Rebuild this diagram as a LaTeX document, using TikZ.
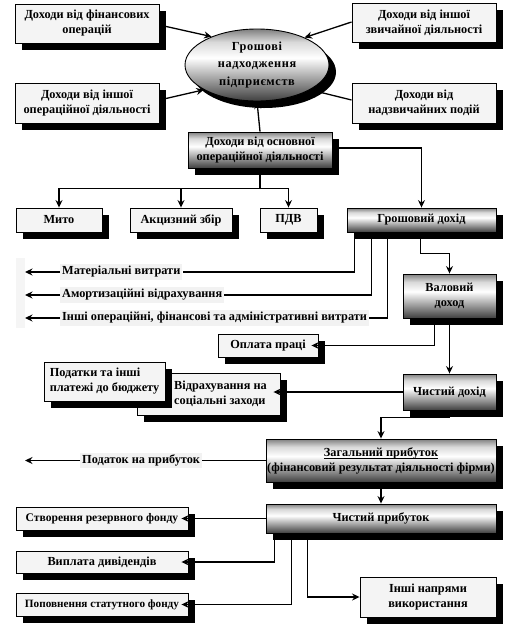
\documentclass[tikz,border=0pt]{standalone}
\usepackage{fontspec}
\setmainfont{Liberation Serif}
\usetikzlibrary{arrows.meta,shadows,shapes.geometric,calc}
\pgfdeclareverticalshading{boxgrad}{100bp}{color(0bp)=(black!75); color(25bp)=(black!75); color(37bp)=(black!45); color(55bp)=(white); color(66bp)=(black!15); color(75bp)=(black!50); color(100bp)=(black!50)}
\newcommand\ulin[1]{\setbox0\hbox{#1}\rlap{\rule[-2.5pt]{\wd0}{0.8pt}}\box0}
\tikzset{
  txt/.style={font=\bfseries\fontsize{12.3}{15}\selectfont},
  base/.style={txt, draw=black, line width=0.9pt, inner sep=1pt, align=center,
    drop shadow={shadow xshift=7pt, shadow yshift=-7pt, fill=black, opacity=1}},
  plainbox/.style={base, fill=gray!9},
  gradbox/.style={base, shade, shading=boxgrad},
  lbl/.style={txt, fill=gray!10, inner sep=2pt, anchor=west},
  ln/.style={line width=1.3pt},
  arr/.style={ln, -{Stealth[length=7.5pt,width=7pt,inset=2.5pt]}},
}
\begin{document}
\begin{tikzpicture}[x=1pt,y=-1pt]
\useasboundingbox (0,0) rectangle (516,630);
\fill[gray!8] (16,258) rectangle (25,328);
% top
\node[gradbox, ellipse, minimum width=144pt, minimum height=72pt, inner sep=0pt,
  font=\bfseries\fontsize{12.3}{17.5}\selectfont\addfontfeature{LetterSpace=5}] (ell) at (257,65) {Грошові\\надходження\\підприємств};
\node[plainbox, minimum width=144pt, minimum height=39pt] (fin) at (87,23.5) {Доходи від фінансових\\операцій};
\node[plainbox, minimum width=144pt, minimum height=39pt] (zv) at (424,22.5) {Доходи від іншої\\звичайної діяльності};
\node[plainbox, minimum width=144pt, minimum height=40pt] (oper) at (87,103) {Доходи від іншої\\операційної діяльності};
\node[plainbox, minimum width=144pt, minimum height=40pt] (nadz) at (424,103) {Доходи від\\надзвичайних подій};
\node[gradbox, minimum width=144pt, minimum height=36pt] (osn) at (260,150) {Доходи від основної\\операційної діяльності};
% taxes row
\node[plainbox, minimum width=86pt, minimum height=24pt] (myto) at (59,220) {Мито};
\node[plainbox, minimum width=102pt, minimum height=24pt] (akc) at (181,220) {Акцизний збір};
\node[plainbox, minimum width=57pt, minimum height=24pt] (pdv) at (288.5,220) {ПДВ};
\node[gradbox, minimum width=149pt, minimum height=24pt] (hr) at (421.5,220) {Грошовий дохід};
% costs
\node[lbl] (t1) at (60,272) {Матеріальні витрати};
\node[lbl] (t2) at (60,295) {Амортизаційні відрахування};
\node[lbl] (t3) at (60,318) {Інші операційні, фінансові та адміністративні витрати};
\coordinate (e1) at (25,272);
\coordinate (e2) at (25,295);
\coordinate (e3) at (25,318);
\node[gradbox, minimum width=93pt, minimum height=44pt] (val) at (449.5,296) {Валовий\\доход};
\node[plainbox, minimum width=100pt, minimum height=23pt] (opl) at (268,345.5) {Оплата праці};
\node[plainbox, minimum width=143pt, minimum height=42pt] (vidr) at (208.5,394) {};
\node[txt, align=left, anchor=west, inner sep=0pt] (vidrt) at (174,394) {Відрахування на\\соціальні заходи};
\node[plainbox, align=left, minimum width=121pt, minimum height=39pt] (pod) at (104.5,381.5) {Податки та інші\\платежі до бюджету};
\node[gradbox, minimum width=93pt, minimum height=36pt] (chd) at (449.5,392) {Чистий дохід};
\node[gradbox, minimum width=230pt, minimum height=43pt] (zag) at (381,460.5) {\ulin{Загальний прибуток}\\(фінансовий результат діяльності фірми)};
\node[lbl] (t4) at (80,460.5) {Податок на прибуток};
\coordinate (e4) at (25,460.5);
\node[gradbox, minimum width=230pt, minimum height=29pt] (chp) at (381,518.5) {Чистий прибуток};
\node[plainbox, minimum width=172pt, minimum height=23pt, font=\bfseries\fontsize{11.6}{15}\selectfont] (rez) at (102,518.5) {Створення резервного фонду};
\node[plainbox, minimum width=172pt, minimum height=22pt] (dyv) at (102,562) {Виплата дивідендів};
\node[plainbox, minimum width=172pt, minimum height=23pt, font=\bfseries\fontsize{11.2}{15}\selectfont] (stat) at (102,604.5) {Поповнення статутного фонду};
\node[plainbox, minimum width=136pt, minimum height=40pt] (insh) at (428,597) {Інші напрями\\використання};
% connectors top
\draw[arr] (fin.east |- 0,25) -- (ell.148);
\draw[arr] (zv.west |- 0,22) -- (ell.30);
\draw[arr] (oper.east |- 0,100) -- (ell.205);
\draw[arr] (nadz.west |- 0,100) -- (ell.335);
\draw[arr] (osn.north) -- (ell.south);
\draw[ln] (osn.south) -- ++(0,20) coordinate (br);
\draw[arr] (br) -| (myto.north);
\draw[arr] (br) -| (akc.north);
\draw[arr] (br) -| (pdv.north);
\draw[arr] (osn.east |- 0,148) -| (hr.north);
% costs
\draw[ln] ([xshift=8pt]hr.south west) |- (t1.east);
\draw[ln] ([xshift=25pt]hr.south west) |- (t2.east);
\draw[ln] ([xshift=41pt]hr.south west) |- (t3.east);
\draw[arr] (t1.west) -- (e1);
\draw[arr] (t2.west) -- (e2);
\draw[arr] (t3.west) -- (e3);
\draw[arr] ([xshift=74pt]hr.south west) -- ++(0,21) -| (val.north);
\draw[arr, shorten >=-7pt] ([xshift=32pt]val.south west) |- (opl.east);
\draw[arr] (val.south) -- (chd.north);
\draw[arr, shorten >=-7pt] (chd.west) -- (chd.west -| vidr.east);
\draw[arr] (chd.south) -- ++(0,7) -| (zag.north);
\draw[ln] (zag.west) -- (t4.east);
\draw[arr] (t4.west) -- (e4);
\draw[arr] (zag.south) -- (chp.north);
\draw[arr, shorten >=-7pt] (chp.west) -- (rez.east);
\draw[arr, shorten >=-7pt] ([xshift=9pt]chp.south west) |- (dyv.east);
\draw[arr, shorten >=-7pt] ([xshift=26pt]chp.south west) |- (stat.east);
\draw[arr] ([xshift=42pt]chp.south west) |- (insh.west);
\end{tikzpicture}
\end{document}
